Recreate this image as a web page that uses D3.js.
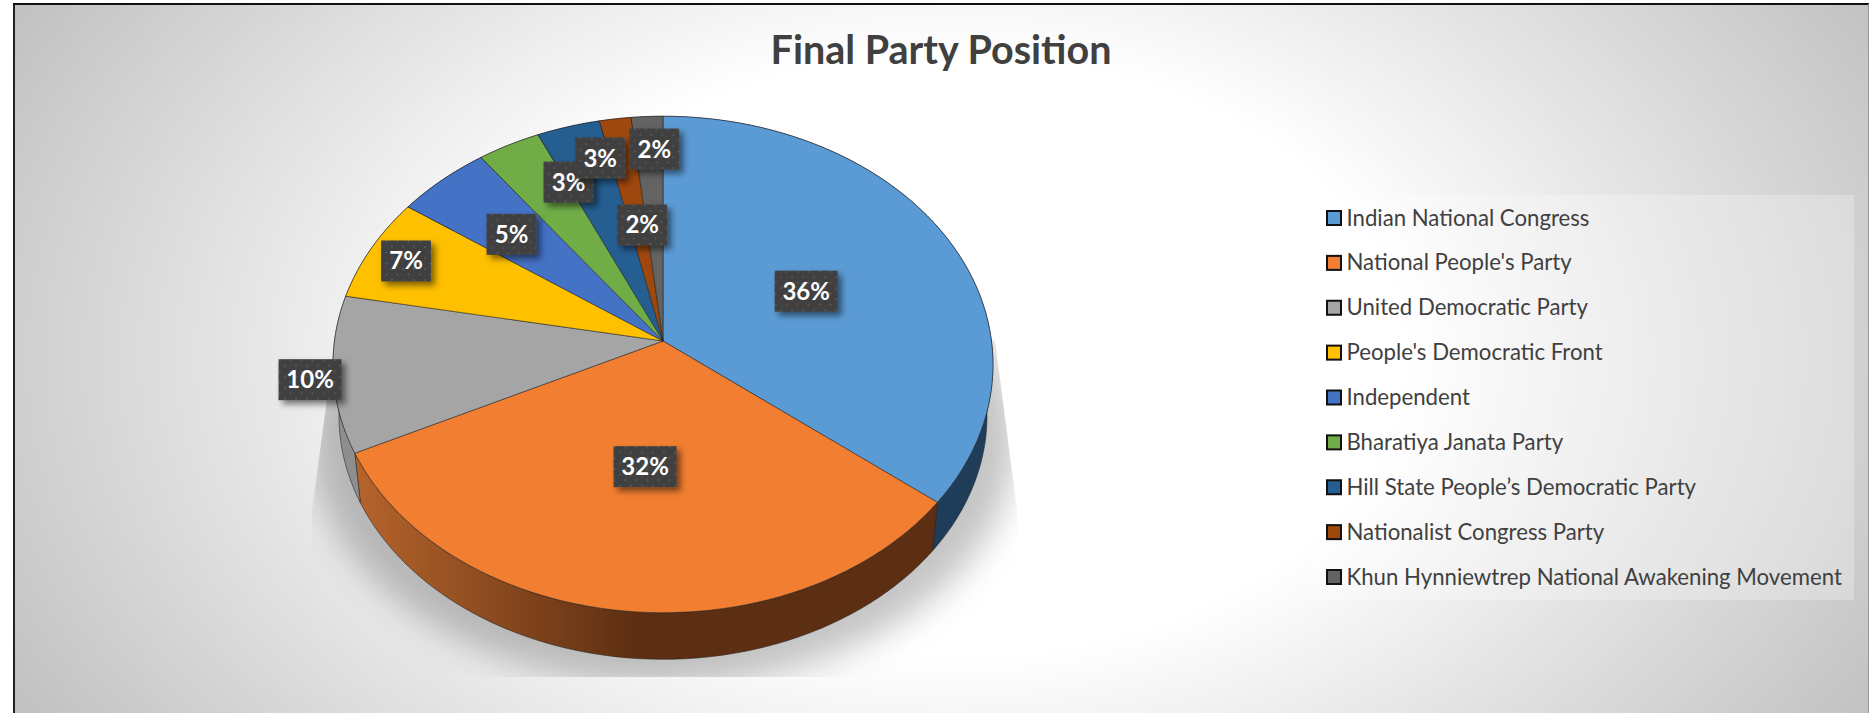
<!DOCTYPE html>
<html>
<head>
<meta charset="utf-8">
<script src="https://cdn.jsdelivr.net/npm/d3@7/dist/d3.min.js"></script>
<style>
html,body{margin:0;padding:0;background:#fff;overflow:hidden}
svg{display:block}
text{font-family:Lato,"Open Sans",sans-serif}
</style>
</head>
<body>
<svg id="chart" width="1869" height="713"></svg>
<script>
// ---- data ----
const parties = ["Indian National Congress","National People's Party","United Democratic Party","People's Democratic Front","Independent","Bharatiya Janata Party","Hill State People\u2019s Democratic Party","Nationalist Congress Party","Khun Hynniewtrep National Awakening Movement"];
const seats = [21,19,6,4,3,2,2,1,1];
const chartTitle = "Final Party Position";

// ---- styles and layout, kept apart from the data ----
const topColors = ["#5b9bd5","#f27e31","#a5a5a5","#ffc000","#4472c4","#70ad47","#255e91","#9e480e","#636363"];
const wallColors = ["#1f3d58","url(#orangeWall)","#8e8e8e","#8a6800","#253d6a","#3c5d26","#14324e","#552707","#353535"];
const labelRadius = [0.49,0.49,1.07,0.874,0.66,0.753,0.826,0.498,0.843];
const labelTurnDeg = [1,0,-0.7,-0.3,-1,6.5,3.9,1.5,1.1];

const W = 1869, H = 713;
const cx = 663, cy = 341;            // pie centre on the picture
const a = 328.5, b = 246, k = 0.0946; // tilted-disc projection
const wallScale = 0.982, wallDrop = 51.5;

const svg = d3.select("#chart");
const defs = svg.append("defs");

const bg = defs.append("radialGradient").attr("id","bg")
  .attr("gradientUnits","userSpaceOnUse").attr("cx",0).attr("cy",0).attr("r",1)
  .attr("gradientTransform","translate(950,356) scale(1130,750)");
bg.append("stop").attr("offset",0.40).attr("stop-color","#ffffff");
bg.append("stop").attr("offset",1).attr("stop-color","#bbbbbb");

const ow = defs.append("linearGradient").attr("id","orangeWall")
  .attr("gradientUnits","userSpaceOnUse").attr("x1",360).attr("x2",640).attr("y1",0).attr("y2",0);
ow.append("stop").attr("offset",0).attr("stop-color","#b5632b");
ow.append("stop").attr("offset",1).attr("stop-color","#5c2e12");

const blur = defs.append("filter").attr("id","blur")
  .attr("x","-20%").attr("y","-20%").attr("width","140%").attr("height","140%");
blur.append("feGaussianBlur").attr("stdDeviation",17);

const lblShadow = defs.append("filter").attr("id","lblShadow")
  .attr("x","-30%").attr("y","-30%").attr("width","170%").attr("height","170%");
lblShadow.append("feDropShadow").attr("dx",4).attr("dy",4).attr("stdDeviation",3)
  .attr("flood-color","#000").attr("flood-opacity",0.5);

const pat = defs.append("pattern").attr("id","dots").attr("patternUnits","userSpaceOnUse")
  .attr("width",11).attr("height",11);
pat.append("rect").attr("width",11).attr("height",11).attr("fill","#404040");
pat.append("circle").attr("cx",2.5).attr("cy",2.5).attr("r",0.9).attr("fill","#5c5c5c");
pat.append("circle").attr("cx",8).attr("cy",8).attr("r",0.9).attr("fill","#5c5c5c");

// frame and background
svg.append("rect").attr("x",14).attr("y",4).attr("width",W-14).attr("height",H-4).attr("fill","url(#bg)");
svg.append("line").attr("x1",14).attr("x2",14).attr("y1",3).attr("y2",H).attr("stroke","#222").attr("stroke-width",2);
svg.append("line").attr("x1",13).attr("x2",W).attr("y1",4).attr("y2",4).attr("stroke","#111").attr("stroke-width",2);
svg.append("line").attr("x1",W-0.5).attr("x2",W-0.5).attr("y1",4).attr("y2",H).attr("stroke","#999").attr("stroke-width",1);

svg.append("text").attr("x",941).attr("y",64).attr("text-anchor","middle")
  .attr("font-size",39.5).attr("font-weight",700).attr("fill","#404040").text(chartTitle);

// projection of a disc point (angle clockwise from top, radius fraction)
function project(theta, r){
  const u = r*Math.sin(theta), v = -r*Math.cos(theta), d = 1 - k*v;
  return [cx + a*u/d, cy + b*v/d];
}
function lower(p){ return [cx+(p[0]-cx)*wallScale, cy+(p[1]-cy)*wallScale+wallDrop]; }

const slices = d3.pie().sort(null).value(d=>d)(seats);
const total = d3.sum(seats);
const pct = d3.format(".0%");
const line = d3.line();
const rim = s => d3.range(0,61).map(i => project(s.startAngle+(s.endAngle-s.startAngle)*i/60, 1));

// cast shadow
const shClip = defs.append("clipPath").attr("id","shClip");
shClip.append("polygon").attr("points",[[335,340],[995,340],[1017,510],[1017,677],[312,677],[312,510]].join(" "));
svg.append("g").attr("clip-path","url(#shClip)")
  .append("ellipse").attr("cx",cx).attr("cy",cy+96).attr("rx",a+24).attr("ry",b+2)
  .attr("fill","#000").attr("fill-opacity",0.23).attr("filter","url(#blur)");

// side wall
svg.append("g").selectAll("path").data(slices).join("path")
  .attr("d",s=>{const r=rim(s); return line(r.concat(r.map(lower).reverse()))+"Z";})
  .attr("fill",(s,i)=>wallColors[i])
  .attr("stroke","#222").attr("stroke-opacity",0.7).attr("stroke-width",0.8).attr("stroke-linejoin","round");

// top face
svg.append("g").selectAll("path").data(slices).join("path")
  .attr("d",s=>line([[cx,cy]].concat(rim(s)))+"Z")
  .attr("fill",(s,i)=>topColors[i])
  .attr("stroke","#1e1e1e").attr("stroke-opacity",0.6).attr("stroke-width",0.9).attr("stroke-linejoin","round");

// data labels
const lbl = svg.append("g").selectAll("g").data(slices).join("g")
  .attr("transform",(s,i)=>{
    const p = project((s.startAngle+s.endAngle)/2 + labelTurnDeg[i]*Math.PI/180, labelRadius[i]);
    return `translate(${p[0]},${p[1]})`;
  });
const pctText = s => pct(s.value/total);
const lblW = s => pctText(s).length>2 ? 63 : 50;
lbl.append("rect")
  .attr("x",s=>-lblW(s)/2).attr("y",-20.5).attr("width",lblW).attr("height",41)
  .attr("fill","url(#dots)").attr("filter","url(#lblShadow)");
lbl.append("text").attr("text-anchor","middle").attr("y",8.5)
  .attr("font-size",24).attr("font-weight",700).attr("fill","#fff").text(pctText);

// legend
svg.append("rect").attr("x",1313).attr("y",195).attr("width",541).attr("height",405)
  .attr("fill","#fff").attr("fill-opacity",0.26);
const legY = d3.scalePoint().domain(parties).range([218,577]);
const leg = svg.append("g").selectAll("g").data(parties).join("g")
  .attr("transform",d=>`translate(1327,${legY(d)})`);
leg.append("rect").attr("x",0).attr("y",-7).attr("width",14).attr("height",14)
  .attr("fill",(d,i)=>topColors[i]).attr("stroke","#111").attr("stroke-width",2);
leg.append("text").attr("x",19.5).attr("y",7.5).attr("font-size",22.2).attr("fill","#404040").text(d=>d);
</script>
</body>
</html>
